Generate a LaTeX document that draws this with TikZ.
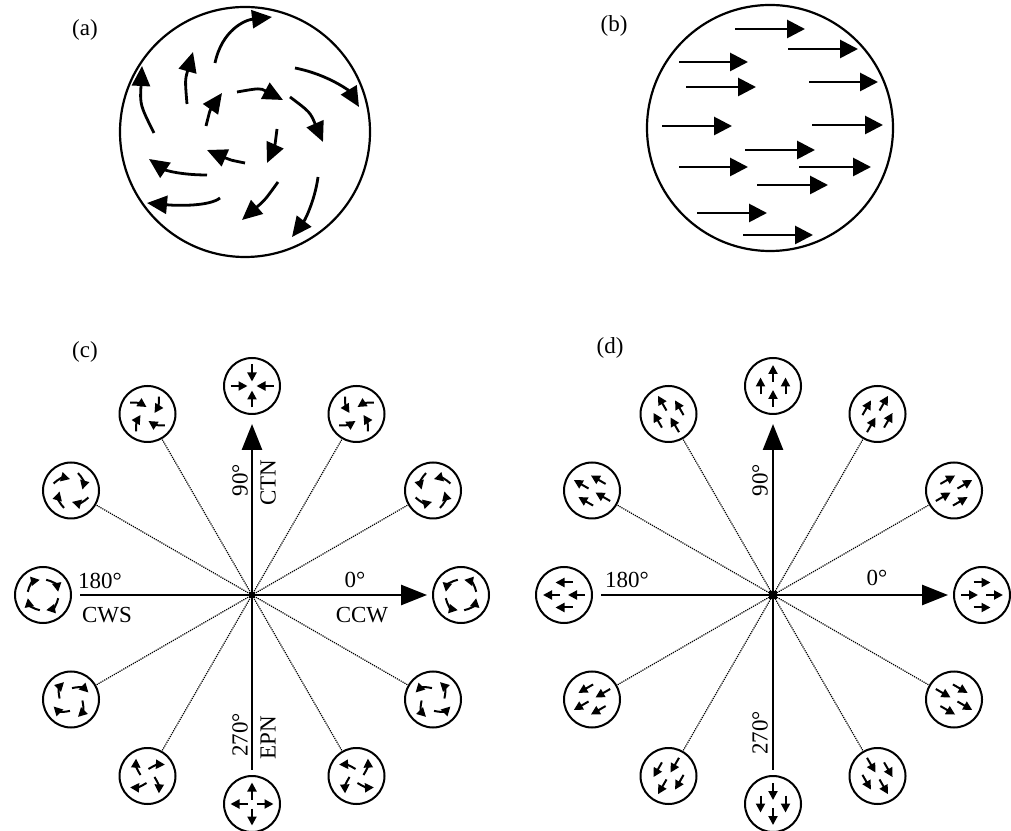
\documentclass[tikz,border=0pt]{standalone}
\usepackage{fontspec}
\setmainfont{Liberation Serif}
\usetikzlibrary{calc,arrows.meta}
\tikzset{
  ring/.style={draw, circle, line width=2pt, minimum size=56pt, inner sep=0pt},
  bigring/.style={draw, circle, line width=2.2pt, inner sep=0pt},
  spoke/.style={densely dotted, line width=1.2pt},
  axisline/.style={line width=2.6pt},
  axarrow/.style={axisline, -{Triangle[length=26pt,width=20pt]}},
  bigarr/.style={line width=2.8pt, -{Triangle[length=20pt,width=18pt]}},
  flowarr/.style={line width=2.8pt, -{Triangle[length=18pt,width=18pt]}},
  smallarr/.style={line width=2pt, -{Triangle[length=9pt,width=9pt]}},
  lab/.style={font=\fontsize{23}{27}\selectfont, inner sep=0pt},
  hub/.style={fill, rectangle, minimum size=6pt, inner sep=0pt}
}
\begin{document}
\begin{tikzpicture}[x=1pt,y=1pt]
\useasboundingbox (0,0) rectangle (1011,830);
\fill[white] (0,0) rectangle (1011,830);

% ---------- panel labels ----------
\node[lab] (la) at (85,800) {(a)};
\node[lab] (lb) at (614,804) {(b)};
\node[lab] (lc) at (85,478) {(c)};
\node[lab] (ld) at (610,482) {(d)};

% ---------- (a) vortex ----------
\node[bigring, minimum size=250pt] (A) at (245,698) {};
\draw[bigarr] (215,767) .. controls (222,800) and (245,810) .. (272,813);
\draw[bigarr] (154,697) .. controls (140,725) .. (142,764);
\draw[bigarr] (187,726) .. controls (185,750) .. (193,778);
\draw[bigarr] (295,762) .. controls (330,755) and (350,738) .. (359,723);
\draw[bigarr] (237,738) .. controls (260,742) .. (283,730);
\draw[bigarr] (206,704) .. controls (210,720) .. (222,737);
\draw[bigarr] (290,733) .. controls (310,718) .. (323,688);
\draw[bigarr] (277,701) .. controls (275,685) .. (267,667);
\draw[bigarr] (245,667) .. controls (230,670) .. (207,680);
\draw[bigarr] (207,655) .. controls (180,655) and (165,660) .. (149,671);
\draw[bigarr] (220,632) .. controls (210,624) and (180,624) .. (147,627);
\draw[bigarr] (278,648) .. controls (265,630) .. (242,610);
\draw[bigarr] (318,653) .. controls (315,630) and (305,610) .. (292,593);

% ---------- (b) uniform flow ----------
\node[bigring, minimum size=246pt] (B) at (770,702) {};
\foreach \x/\y/\X in {735/801/805, 788/781/858, 679/768/748, 686/743/756,
  809/748/878, 662/704/732, 812/705/883, 745/680/815, 679/663/748,
  799/663/871, 757/645/828, 697/617/767, 743/595/813}
  \draw[flowarr] (\x,\y) -- (\X,\y);

% ---------- (c) ----------
\coordinate (C) at (252,235);
\foreach \a in {0,30,...,330}
  \node[ring] (c\a) at ($(C)+(\a:209)$) {};
\foreach \a in {30,60,120,150,210,240,300,330}
  \draw[spoke] (C) -- (c\a);
\draw[axarrow, shorten >=5pt] (C) -- (c0);
\draw[axarrow, shorten >=9pt] (C) -- (c90);
\draw[axisline, shorten >=8pt] (C) -- (c180);
\draw[axisline, shorten >=5pt] (C) -- (c270);
\node[hub] (ch) at (C) {};
\foreach \a in {0,30,...,330} {
  \pgfmathsetmacro{\off}{ifthenelse(mod(\a,180)==90,0,45)}
  \pgfmathsetmacro{\bnd}{-35*cos(\a)}
  \foreach \k in {0,1,2,3} {
    \pgfmathsetmacro{\th}{90*\k+\off}
    \pgfmathsetmacro{\dl}{\th+90+\a}
    \draw[smallarr] ($(c\a)+(\th:13)+(\dl:-8.5)$) to[bend left=\bnd] ($(c\a)+(\th:13)+(\dl:8.5)$);
  }
}
\node[lab, rotate=90] (c90a) at (240,350) {90°};
\node[lab, rotate=90] (c90b) at (268,347) {CTN};
\node[lab] (c180a) at (100,249) {180°};
\node[lab] (c180b) at (107,215) {CWS};
\node[lab] (c0a) at (355,250) {0°};
\node[lab] (c0b) at (362,215) {CCW};
\node[lab, rotate=90] (c270a) at (240,95) {270°};
\node[lab, rotate=90] (c270b) at (268,92) {EPN};

% ---------- (d) ----------
\coordinate (D) at (773,235);
\foreach \a in {0,30,...,330}
  \node[ring] (d\a) at ($(D)+(\a:209)$) {};
\foreach \a in {30,60,120,150,210,240,300,330}
  \draw[spoke] (D) -- (d\a);
\draw[axarrow, shorten >=5pt] (D) -- (d0);
\draw[axarrow, shorten >=9pt] (D) -- (d90);
\draw[axisline, shorten >=8pt] (D) -- (d180);
\draw[axisline, shorten >=5pt] (D) -- (d270);
\node[hub, minimum size=8pt] (dh) at (D) {};
\foreach \a in {0,30,...,330} {
  \foreach \k in {0,1,2,3} {
    \pgfmathsetmacro{\th}{90*\k+\a}
    \draw[smallarr] ($(d\a)+(\th:12.5)+(\a:-8.5)$) -- ($(d\a)+(\th:12.5)+(\a:8.5)$);
  }
}
\node[lab, rotate=90] (d90a) at (760,350) {90°};
\node[lab] (d180a) at (627,250) {180°};
\node[lab] (d0a) at (877,252) {0°};
\node[lab, rotate=90] (d270a) at (760,97) {270°};
\end{tikzpicture}
\end{document}
